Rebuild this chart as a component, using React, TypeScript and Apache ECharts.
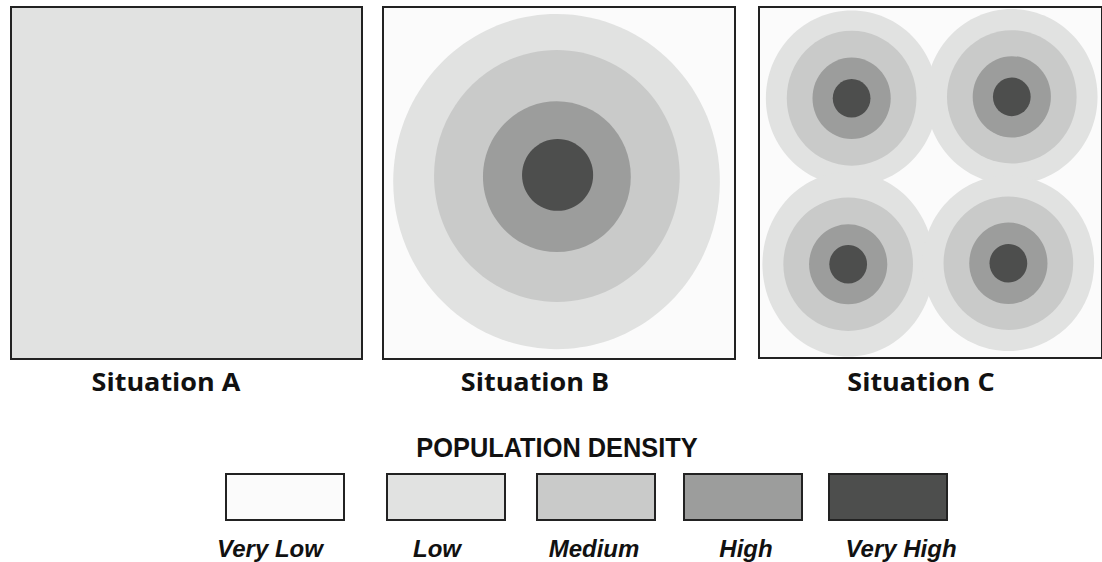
import React, { useEffect, useRef } from "react";
import * as echarts from "echarts";

// ---- data ----
const levels = ["Very Low", "Low", "Medium", "High", "Very High"];
const situations = ["Situation A", "Situation B", "Situation C"];
const legendTitle = "POPULATION DENSITY";
// background density level of each situation's square
const backgroundLevel = [1, 0, 0];
// rings: [centerX, centerY, radiusX, radiusY, level] in % of square side (y from top)
const ringsB: number[][] = [
  [49.3, 49.6, 46.4, 47.6, 1],
  [49.4, 48.0, 34.9, 35.8, 2],
  [49.4, 48.2, 21.0, 21.4, 3],
  [49.6, 47.7, 10.1, 10.2, 4],
];
const ringsC: number[][] = [
  [27.0, 26.0, 25.0, 25.0, 1],
  [73.7, 25.6, 25.0, 25.0, 1],
  [26.0, 73.3, 25.0, 26.3, 1],
  [72.7, 73.0, 25.0, 25.0, 1],
  [27.0, 26.0, 18.9, 19.2, 2],
  [73.7, 25.6, 18.9, 19.0, 2],
  [26.0, 73.3, 18.9, 19.0, 2],
  [72.7, 73.0, 18.9, 19.0, 2],
  [27.0, 26.0, 11.4, 11.6, 3],
  [73.7, 25.6, 11.4, 11.6, 3],
  [26.0, 73.3, 11.4, 11.4, 3],
  [72.7, 73.0, 11.4, 11.6, 3],
  [27.0, 26.0, 5.5, 5.5, 4],
  [73.7, 25.6, 5.5, 5.5, 4],
  [26.0, 73.3, 5.5, 5.5, 4],
  [72.7, 73.0, 5.5, 5.5, 4],
];

// ---- styles / layout ----
const levelColors = ["#fbfbfb", "#e1e2e1", "#c9cac9", "#9c9d9c", "#4d4e4d"];
const gridRects = [
  { left: 11, top: 7, width: 351, height: 352 },
  { left: 383, top: 7, width: 352, height: 352 },
  { left: 759, top: 7, width: 352, height: 351 },
];
const situationLabelX = [166, 535, 921];
const legendBoxX = [226, 387, 537, 684, 829];
const legendLabelX = [270, 437, 594, 746, 901];

export default function App() {
  const ref = useRef<HTMLDivElement>(null);
  useEffect(() => {
    document.body.style.margin = "0";
    const chart = echarts.init(ref.current!, null, { renderer: "svg" });

    const renderItem = (params: any, api: any) => {
      const c = api.coord([api.value(0), api.value(1)]);
      const s = api.size([api.value(2), api.value(3)]);
      return {
        type: "ellipse",
        shape: { cx: c[0], cy: c[1], rx: Math.abs(s[0]), ry: Math.abs(s[1]) },
        style: { fill: levelColors[api.value(4)] },
      };
    };

    const graphic: any[] = [];
    situations.forEach((name, i) => {
      graphic.push({
        type: "text",
        x: situationLabelX[i],
        y: 381,
        scaleX: 1.08,
        style: {
          text: name,
          fontFamily: "Open Sans",
          fontWeight: 700,
          fontSize: 25,
          fill: "#111",
          align: "center",
          verticalAlign: "middle",
        },
      });
    });
    graphic.push({
      type: "text",
      x: 557,
      y: 448,
      scaleX: 0.94,
      style: {
        text: legendTitle,
        fontFamily: "Liberation Sans",
        fontWeight: 700,
        fontSize: 27,
        fill: "#111",
        align: "center",
        verticalAlign: "middle",
      },
    });
    levels.forEach((name, i) => {
      graphic.push({
        type: "rect",
        shape: { x: legendBoxX[i], y: 474, width: 118, height: 46 },
        style: { fill: levelColors[i], stroke: "#222", lineWidth: 2 },
      });
      graphic.push({
        type: "text",
        x: legendLabelX[i],
        y: 548,
        style: {
          text: name,
          fontFamily: "Liberation Sans",
          fontWeight: 700,
          fontStyle: "italic",
          fontSize: 24,
          fill: "#111",
          align: "center",
          verticalAlign: "middle",
        },
      });
    });

    chart.setOption({
      animation: false,
      backgroundColor: "#ffffff",
      grid: gridRects.map((g, i) => ({
        ...g,
        show: true,
        backgroundColor: levelColors[backgroundLevel[i]],
        borderColor: "#222",
        borderWidth: 2,
      })),
      xAxis: gridRects.map((_, i) => ({ gridIndex: i, type: "value", min: 0, max: 100, show: false })),
      yAxis: gridRects.map((_, i) => ({ gridIndex: i, type: "value", min: 0, max: 100, inverse: true, show: false })),
      series: [
        { type: "custom", xAxisIndex: 1, yAxisIndex: 1, clip: false, data: ringsB, renderItem },
        { type: "custom", xAxisIndex: 2, yAxisIndex: 2, clip: false, data: ringsC, renderItem },
      ],
      graphic,
    });
    return () => chart.dispose();
  }, []);
  return <div ref={ref} style={{ width: 1102, height: 562 }} />;
}
